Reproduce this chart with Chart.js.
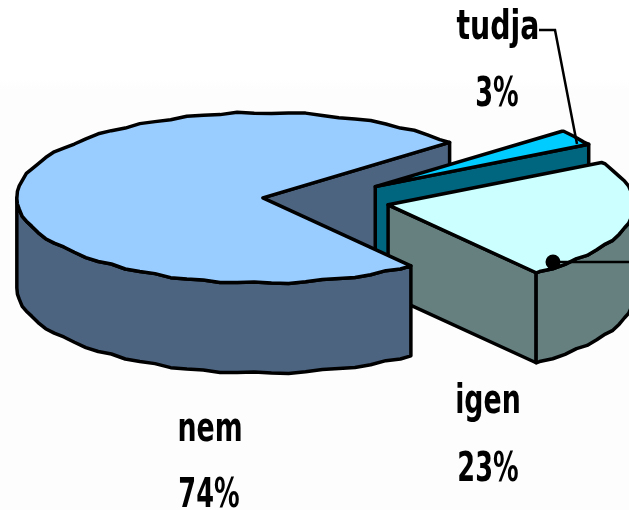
<!DOCTYPE html>
<html>
<head>
<meta charset="utf-8">
<title>nem / igen / tudja</title>
<script src="https://cdn.jsdelivr.net/npm/chart.js@4"></script>
<style>
	html, body { margin: 0; padding: 0; background: linear-gradient(#ffffff 0, #ffffff 80px, #fdfdfd 90px); }
	canvas { display: block; }
</style>
</head>
<body>
<canvas id="pie" width="629" height="510"></canvas>
<script>
(function() {
	'use strict';

	// Values as printed next to the slices.
	const categories = ['nem', 'tudja', 'igen'];
	const seriesValues = [74, 3, 23];

	const topColors = ['#99ccff', '#00ccff', '#ccffff'];
	const wallColors = ['#4d6480', '#006680', '#668080'];

	// Explosion of each slice (Chart.js moves an arc by offset / 4).
	const sliceOffsets = [232, 268, 276];

	// The outline in the original is a coarse, slightly bumpy curve.
	const rimBumps = [0.7, -0.3, -0.9, 0.2, 0.9, 0.1, -0.8, -0.1, 0.8, -0.5, 0.3, 0.9, -0.7, -0.1, 0.6, -0.9, 0.4];

	const FLATTEN = 0.346;
	const CENTER_Y = 200;
	const RIM_RADIUS = 246;
	const DEPTH = 90;
	const LINE = 3.5;
	const STEP = Math.PI / 45;

	function apexOf(arc, i) {
		const mid = (arc.startAngle + arc.endAngle) / 2;
		const move = sliceOffsets[i] / 4;
		return { x: arc.x + Math.cos(mid) * move, y: arc.y + Math.sin(mid) * move };
	}

	function project(chart, ctx) {
		const midY = (chart.chartArea.top + chart.chartArea.bottom) / 2;
		ctx.translate(0, CENTER_Y - midY * FLATTEN);
		ctx.scale(1, FLATTEN);
	}

	// Walks the rim from one angle to the other as short bumpy chords.
	function traceRim(ctx, cx, cy, from, to) {
		const dir = to > from ? 1 : -1;
		ctx.lineTo(cx + Math.cos(from) * RIM_RADIUS, cy + Math.sin(from) * RIM_RADIUS);
		let k = dir > 0 ? Math.floor(from / STEP) + 1 : Math.ceil(from / STEP) - 1;
		while (dir > 0 ? k * STEP < to : k * STEP > to) {
			const bump = rimBumps[((k % rimBumps.length) + rimBumps.length) % rimBumps.length] / FLATTEN;
			ctx.lineTo(cx + Math.cos(k * STEP) * RIM_RADIUS, cy + Math.sin(k * STEP) * RIM_RADIUS + bump);
			k += dir;
		}
		ctx.lineTo(cx + Math.cos(to) * RIM_RADIUS, cy + Math.sin(to) * RIM_RADIUS);
	}

	// Builds a path in flattened space, then strokes it without the squash
	// so the outline stays the same width all the way round.
	function fillAndStroke(chart, ctx, color, buildPath) {
		ctx.save();
		ctx.save();
		project(chart, ctx);
		ctx.beginPath();
		buildPath();
		ctx.restore();
		ctx.fillStyle = color;
		ctx.fill();
		ctx.lineWidth = LINE;
		ctx.lineJoin = 'round';
		ctx.strokeStyle = '#000000';
		ctx.stroke();
		ctx.restore();
	}

	function drawCutWall(chart, ctx, arc, i, angle) {
		const apex = apexOf(arc, i);
		const drop = DEPTH / FLATTEN;
		const edgeX = apex.x + Math.cos(angle) * RIM_RADIUS;
		const edgeY = apex.y + Math.sin(angle) * RIM_RADIUS;
		fillAndStroke(chart, ctx, wallColors[i], function() {
			ctx.moveTo(apex.x, apex.y);
			ctx.lineTo(edgeX, edgeY);
			ctx.lineTo(edgeX, edgeY + drop);
			ctx.lineTo(apex.x, apex.y + drop);
			ctx.closePath();
		});
	}

	function drawRimWall(chart, ctx, arc, i) {
		const apex = apexOf(arc, i);
		const drop = DEPTH / FLATTEN;
		// The front half of the ellipse is the only part that can be seen.
		const ranges = [[0, Math.PI], [2 * Math.PI, 3 * Math.PI]];
		ranges.forEach(function(range) {
			const from = Math.max(arc.startAngle, range[0]);
			const to = Math.min(arc.endAngle, range[1]);
			if (to <= from) {
				return;
			}
			fillAndStroke(chart, ctx, wallColors[i], function() {
				traceRim(ctx, apex.x, apex.y, from, to);
				traceRim(ctx, apex.x, apex.y + drop, to, from);
				ctx.closePath();
			});
		});
	}

	function drawText(ctx, text, x, y, squeeze) {
		ctx.save();
		ctx.translate(x, y);
		ctx.scale(squeeze, 1);
		ctx.font = 'bold 40px "DejaVu Sans"';
		ctx.textAlign = 'center';
		ctx.textBaseline = 'alphabetic';
		ctx.fillStyle = '#000000';
		ctx.fillText(text, 0, 0);
		ctx.restore();
	}

	const pie3d = {
		id: 'pie3d',
		beforeDatasetsDraw: function(chart) {
			const ctx = chart.ctx;
			const arcs = chart.getDatasetMeta(0).data;
			arcs.forEach(function(arc, i) {
				// the element grows its radius along with the offset, take that back out
				const fix = 1 - Math.sin(Math.min(Math.PI, arc.circumference));
				arc.outerRadius = RIM_RADIUS - sliceOffsets[i] / 4 * fix;
			});
			const nem = categories.indexOf('nem');
			const tudja = categories.indexOf('tudja');
			const igen = categories.indexOf('igen');
			drawCutWall(chart, ctx, arcs[nem], nem, arcs[nem].endAngle);
			drawCutWall(chart, ctx, arcs[tudja], tudja, arcs[tudja].endAngle);
			drawCutWall(chart, ctx, arcs[igen], igen, arcs[igen].endAngle);
			drawRimWall(chart, ctx, arcs[igen], igen);
			drawRimWall(chart, ctx, arcs[nem], nem);
			ctx.save();
			project(chart, ctx);
		},
		afterDatasetsDraw: function(chart) {
			const ctx = chart.ctx;
			ctx.restore();
			chart.getDatasetMeta(0).data.forEach(function(arc, i) {
				const apex = apexOf(arc, i);
				fillAndStroke(chart, ctx, topColors[i], function() {
					ctx.moveTo(apex.x, apex.y);
					traceRim(ctx, apex.x, apex.y, arc.startAngle, arc.endAngle);
					ctx.closePath();
				});
			});

			// leader lines
			ctx.save();
			ctx.strokeStyle = '#000000';
			ctx.lineWidth = 2.5;
			ctx.beginPath();
			ctx.moveTo(539, 30);
			ctx.lineTo(555, 30);
			ctx.lineTo(577, 144);
			ctx.moveTo(553, 262);
			ctx.lineTo(629, 262);
			ctx.stroke();
			ctx.fillStyle = '#000000';
			ctx.beginPath();
			ctx.arc(553, 262, 7.5, 0, 2 * Math.PI);
			ctx.fill();
			ctx.restore();

			drawText(ctx, categories[1], 498, 39, 0.71);
			drawText(ctx, seriesValues[1] + '%', 497, 106, 0.64);
			drawText(ctx, categories[2], 488, 413, 0.67);
			drawText(ctx, seriesValues[2] + '%', 488, 481, 0.64);
			drawText(ctx, categories[0], 210, 441, 0.67);
			drawText(ctx, seriesValues[0] + '%', 209, 507, 0.64);
		}
	};

	new Chart(document.getElementById('pie'), {
		type: 'pie',
		data: {
			labels: categories,
			datasets: [{
				data: seriesValues,
				backgroundColor: topColors,
				borderWidth: 0,
				offset: sliceOffsets,
				clip: false
			}]
		},
		options: {
			responsive: false,
			animation: false,
			rotation: 143,
			radius: RIM_RADIUS,
			layout: { padding: { left: 12 } },
			plugins: {
				legend: { display: false },
				tooltip: { enabled: false }
			}
		},
		plugins: [pie3d]
	});
})();
</script>
</body>
</html>
